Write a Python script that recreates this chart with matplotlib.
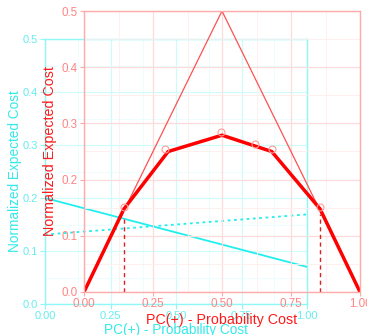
import matplotlib
matplotlib.use("Agg")
import matplotlib.pyplot as plt
from matplotlib.ticker import MultipleLocator

plt.rcParams['font.family'] = ['Liberation Sans', 'DejaVu Sans']

# red panel data (cost curve)
tri_x = [0.0, 0.5, 1.0]
tri_y = [0.0, 0.5, 0.0]
curve_x = [0.0, 0.145, 0.305, 0.5, 0.68, 0.855, 1.0]
curve_y = [0.0, 0.148, 0.25, 0.279, 0.25, 0.148, 0.0]
pts_x = [0.145, 0.295, 0.498, 0.62, 0.68, 0.855]
pts_y = [0.152, 0.254, 0.284, 0.263, 0.254, 0.152]
thr_x = [0.145, 0.855]
thr_y = [0.133, 0.138]

# cyan panel data
line_x = [0.0, 1.0]
solid_y = [0.2, 0.07]
dotted_y = [0.131, 0.169]

xticks = [0.0, 0.25, 0.5, 0.75, 1.0]
xtick_labels = ["0.00", "0.25", "0.50", "0.75", "1.00"]
yticks = [0.0, 0.1, 0.2, 0.3, 0.4, 0.5]
ytick_labels = ["0.0", "0.1", "0.2", "0.3", "0.4", "0.5"]

W, H = 367, 335
fig = plt.figure(figsize=(W / 100, H / 100), dpi=100)
fig.patch.set_facecolor("white")


def style_axes(ax, spine_col, tick_col, major_grid, minor_grid, fs, tlen):
    ax.set_xlim(0, 1)
    ax.set_ylim(0, 0.5)
    ax.set_xticks(xticks)
    ax.set_xticklabels(xtick_labels)
    ax.set_yticks(yticks)
    ax.set_yticklabels(ytick_labels)
    ax.xaxis.set_minor_locator(MultipleLocator(0.125))
    ax.yaxis.set_minor_locator(MultipleLocator(0.05))
    ax.grid(True, which="major", color=major_grid, linewidth=0.9)
    ax.grid(True, which="minor", color=minor_grid, linewidth=0.6)
    ax.set_axisbelow(True)
    for s in ax.spines.values():
        s.set_color(spine_col)
        s.set_linewidth(1.0)
    ax.tick_params(which="major", length=tlen, width=0.8, color=spine_col,
                   labelcolor=tick_col, labelsize=fs, pad=1.5)
    ax.tick_params(which="minor", length=0)


# cyan panel (behind)
axc = fig.add_axes([45 / W, (H - 304) / H, 262 / W, 265 / H])
axc.set_facecolor("white")
style_axes(axc, "#90f6f6", "#66eeee", "#d0fbfb", "#e8fdfd", 8.0, 3.5)
axc.plot(line_x, solid_y, color="#22eeee", linewidth=1.3)
axc.plot(line_x, dotted_y, color="#22eeee", linewidth=1.3, dashes=(1.5, 2))
axc.text(-0.115, 0.5, "Normalized Expected Cost", transform=axc.transAxes,
         rotation=90, ha="center", va="center", color="#33eaea", fontsize=9.8)
axc.text(0.5, -0.098, "PC(+) - Probability Cost", transform=axc.transAxes,
         ha="center", va="center", color="#33eaea", fontsize=9.8)

# red panel (on top, transparent)
axr = fig.add_axes([84 / W, (H - 292) / H, 276 / W, 281 / H])
axr.set_facecolor("none")
style_axes(axr, "#ffaaaa", "#ff8585", "#ffdcdc", "#ffeeee", 8.4, 3)
axr.plot(tri_x, tri_y, color="#ff5050", linewidth=0.9)
axr.plot(curve_x, curve_y, color="#ff0000", linewidth=2.5, solid_joinstyle="round")
axr.plot(pts_x, pts_y, linestyle="none", marker="o", markersize=5,
         markerfacecolor="none", markeredgecolor="#ff9a9a", markeredgewidth=0.8)
for x, y in zip(thr_x, thr_y):
    axr.plot([x, x], [0, y], color="#dd2020", linewidth=1.0, dashes=(3, 2.5))
axr.text(-0.123, 0.5, "Normalized Expected Cost", transform=axr.transAxes,
         rotation=90, ha="center", va="center", color="#ff1a1a", fontsize=10.3)
axr.text(0.5, -0.1, "PC(+) - Probability Cost", transform=axr.transAxes,
         ha="center", va="center", color="#ff1a1a", fontsize=10.3)

fig.savefig("out.png", dpi=100)
plt.close(fig)
